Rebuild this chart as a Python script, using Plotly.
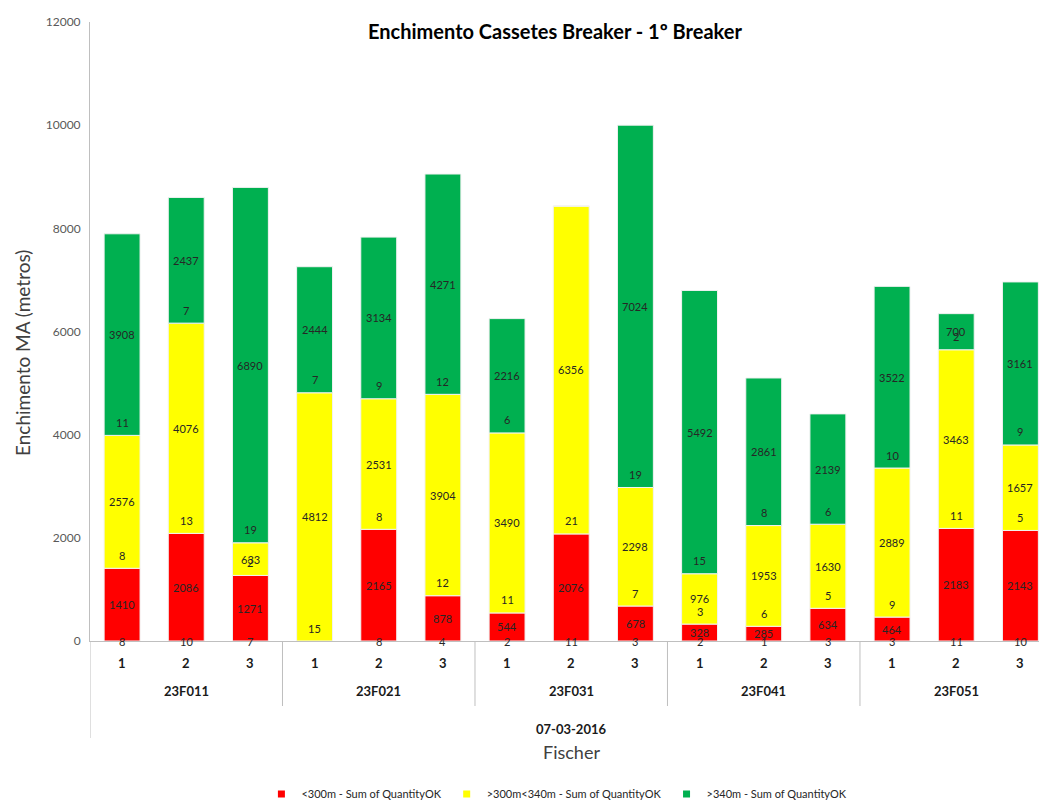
import plotly.graph_objects as go

groups = ["23F011", "23F021", "23F031", "23F041", "23F051"]
subs = ["1", "2", "3"]
date_label = "07-03-2016"
x_title = "Fischer"
y_title = "Enchimento MA (metros)"
title = "Enchimento Cassetes Breaker - 1º Breaker"

series_names = ["<300m - Sum of QuantityOK", ">300m<340m - Sum of QuantityOK", ">340m - Sum of QuantityOK"]
series_colors = ["#FF0000", "#FFFF00", "#00B050"]

red_m = [1410, 2086, 1271, 0, 2165, 878, 544, 2076, 678, 328, 285, 634, 464, 2183, 2143]
red_n = [8, 10, 7, None, 8, 4, 2, 11, 3, 2, 1, 3, 3, 11, 10]
yel_m = [2576, 4076, 633, 4812, 2531, 3904, 3490, 6356, 2298, 976, 1953, 1630, 2889, 3463, 1657]
yel_n = [8, 13, 2, 15, 8, 12, 11, 21, 7, 3, 6, 5, 9, 11, 5]
grn_m = [3908, 2437, 6890, 2444, 3134, 4271, 2216, 0, 7024, 5492, 2861, 2139, 3522, 700, 3161]
grn_n = [11, 7, 19, 7, 9, 12, 6, None, 19, 15, 8, 6, 10, 2, 9]

meters = [red_m, yel_m, grn_m]
counts = [red_n, yel_n, grn_n]

FONT = "Lato"
n = len(groups) * len(subs)
xs = list(range(n))

fig = go.Figure()
annotations = []
bases = [0] * n
for k in range(3):
    fig.add_trace(go.Bar(
        x=xs, y=meters[k], base=bases[:], width=0.56,
        marker=dict(color=series_colors[k], line=dict(color="#F2F2F2", width=1)),
        showlegend=False, hoverinfo="skip",
    ))
    for i in xs:
        v = meters[k][i]
        c = counts[k][i]
        if v > 0:
            annotations.append(dict(x=i, y=bases[i] + v / 2, xref="x", yref="y", text=str(v),
                                    yanchor="middle", showarrow=False,
                                    font=dict(family=FONT, size=11, color="#262626")))
        if c is not None:
            annotations.append(dict(x=i, y=bases[i], xref="x", yref="y", text=str(c),
                                    yanchor="middle", yshift=(0 if k == 0 else 13), showarrow=False,
                                    font=dict(family=FONT, size=11, color="#262626")))
        bases[i] += v

# legend-only traces (small square markers)
for k in range(3):
    fig.add_trace(go.Scatter(x=[None], y=[None], mode="markers", name=series_names[k],
                             marker=dict(symbol="square", size=7, color=series_colors[k])))

lbl_font = dict(family=FONT, size=13, color="#1a1a1a", weight="bold")
for i in xs:
    annotations.append(dict(x=i, y=0, xref="x", yref="paper", yanchor="middle", yshift=-22,
                            text=subs[i % 3], showarrow=False, font=lbl_font))
for g, name in enumerate(groups):
    annotations.append(dict(x=g * 3 + 1, y=0, xref="x", yref="paper", yanchor="middle", yshift=-50,
                            text=name, showarrow=False, font=lbl_font))
annotations.append(dict(x=7, y=0, xref="x", yref="paper", yanchor="middle", yshift=-88,
                        text=date_label, showarrow=False, font=lbl_font))
annotations.append(dict(x=7, y=0, xref="x", yref="paper", yanchor="middle", yshift=-111,
                        text=x_title, showarrow=False, font=dict(family=FONT, size=18, color="#404040")))
annotations.append(dict(x=22, y=353, xref="paper", yref="paper", text=y_title, textangle=-90,
                        showarrow=False, xanchor="center", yanchor="middle",
                        font=dict(family=FONT, size=19, color="#404040")))
annotations.append(dict(x=555, y=31, text=title, showarrow=False, xanchor="center", yanchor="middle",
                        font=dict(family=FONT, size=20, color="#000000", weight="bold")))

# convert pixel-placed annotations (y title, chart title) to paper coordinates
L, T, B, W, H = 90, 22, 160, 1039, 801
pw, ph = W - L, H - T - B
annotations[-2]["x"] = (22 - L) / pw
annotations[-2]["y"] = (H - B - 353) / ph
annotations[-1]["xref"] = "paper"
annotations[-1]["yref"] = "paper"
annotations[-1]["x"] = (555 - L) / pw
annotations[-1]["y"] = (H - B - 31) / ph

shapes = []
for g in range(1, len(groups)):
    shapes.append(dict(type="line", xref="x", yref="paper", x0=g * 3 - 0.5, x1=g * 3 - 0.5,
                       y0=0, y1=-65 / ph, line=dict(color="#BFBFBF", width=1)))
shapes.append(dict(type="line", xref="x", yref="paper", x0=-0.5, x1=-0.5,
                   y0=0, y1=-97 / ph, line=dict(color="#BFBFBF", width=1)))

fig.update_layout(
    width=W, height=H,
    margin=dict(l=L, r=0, t=T, b=B),
    plot_bgcolor="white", paper_bgcolor="white",
    barmode="overlay",
    xaxis=dict(range=[-0.5, 14.29], showticklabels=False, showgrid=False, zeroline=False,
               showline=True, linecolor="#BFBFBF", linewidth=1, ticks=""),
    yaxis=dict(range=[0, 12000], dtick=2000, tickformat="d", showgrid=False, zeroline=False,
               showline=True, linecolor="#BFBFBF", linewidth=1, ticks="",
               tickfont=dict(family=FONT, size=12, color="#595959"),
               ticklabelstandoff=6),
    legend=dict(orientation="h", x=0.492, xanchor="center", yref="container", y=(H - 794) / H,
                yanchor="middle", font=dict(family=FONT, size=11, color="#262626"), itemwidth=30),
    annotations=annotations,
    shapes=shapes,
)

fig.write_html("out.html")
